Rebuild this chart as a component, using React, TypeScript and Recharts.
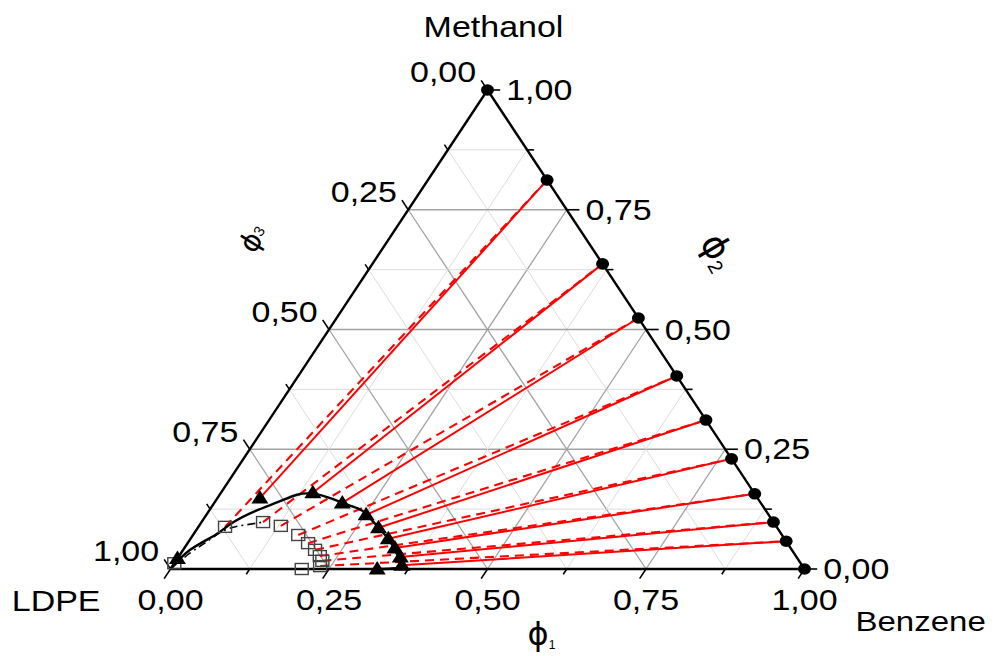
import React from 'react';
import { ScatterChart, Scatter, XAxis, YAxis } from 'recharts';

// ---------------- data (ternary: phi1 = Benzene, phi2 = Methanol, phi3 = LDPE = 1 - phi1 - phi2) ----------------
// Methanol-rich phase on the Benzene–Methanol edge (black circles)
const richBenzene = [0.0, 0.188, 0.363, 0.476, 0.597, 0.689, 0.77, 0.843, 0.902, 0.942, 1.0];
const richMethanol = [1.0, 0.812, 0.637, 0.524, 0.403, 0.311, 0.23, 0.157, 0.098, 0.058, 0.0];
// LDPE-rich phase, experimental (black triangles)
const expBenzene = [0.0, 0.067, 0.145, 0.202, 0.252, 0.285, 0.312, 0.332, 0.35, 0.361, 0.326];
const expMethanol = [0.022, 0.148, 0.159, 0.138, 0.113, 0.086, 0.063, 0.044, 0.025, 0.008, 0.0];
// LDPE-rich phase, calculated (open squares)
const calcBenzene = [0.0, 0.042, 0.097, 0.129, 0.166, 0.19, 0.208, 0.222, 0.231, 0.233, 0.207];
const calcMethanol = [0.012, 0.088, 0.098, 0.09, 0.071, 0.054, 0.04, 0.027, 0.017, 0.006, 0.0];
// binodal curve (solid black)
const binodalBenzene = [0.0, 0.011, 0.035, 0.049, 0.073, 0.1, 0.122, 0.147, 0.178, 0.202, 0.231, 0.251, 0.283, 0.312, 0.334, 0.353, 0.364, 0.349, 0.326];
const binodalMethanol = [0.0, 0.04, 0.071, 0.096, 0.121, 0.14, 0.155, 0.157, 0.148, 0.138, 0.127, 0.115, 0.088, 0.063, 0.04, 0.019, 0.006, 0.001, 0.0];
// calculated curve (dash-dot black)
const calcCurveBenzene = [0.0, 0.014, 0.027, 0.045, 0.072, 0.097];
const calcCurveMethanol = [0.0, 0.033, 0.054, 0.081, 0.092, 0.098];

// axes
const gridValues = [0.125, 0.25, 0.375, 0.5, 0.625, 0.75, 0.875];
const majorGridValues = [0.25, 0.5, 0.75];
const tickValues = [0, 0.125, 0.25, 0.375, 0.5, 0.625, 0.75, 0.875, 1];
const labelValues = [0, 0.25, 0.5, 0.75, 1];
const tickLabels = ['0,00', '0,25', '0,50', '0,75', '1,00'];
const vertexNames = ['Methanol', 'Benzene', 'LDPE'];

// ---------------- layout ----------------
const W = 987;
const H = 648;
const FRAME_LEFT = 162.5;
const FRAME_BOTTOM = 561;
const FRAME_W = 634;
const FRAME_H = 479;
const X_DOMAIN = [-FRAME_LEFT / FRAME_W, (W - FRAME_LEFT) / FRAME_W];
const Y_DOMAIN = [-(H - FRAME_BOTTOM) / FRAME_H, FRAME_BOTTOM / FRAME_H];
const MAJOR_TICK = 0.02;
const MINOR_TICK = 0.011;
const FONT = 'Liberation Sans, Arial, sans-serif';
const SY = 0.86;

const toXY = (b: number, m: number, extra: any = {}) => ({ x: b + m / 2, y: m, ...extra });
const zipPts = (bs: number[], ms: number[]) => bs.map((b, i) => toXY(b, ms[i]));

const richPts = zipPts(richBenzene, richMethanol);
const expPts = zipPts(expBenzene, expMethanol);
const calcPts = zipPts(calcBenzene, calcMethanol);
const binodalPts = zipPts(binodalBenzene, binodalMethanol);
const calcCurvePts = zipPts(calcCurveBenzene, calcCurveMethanol);

const NoShape = () => <g />;

const CircleShape = (p: any) => <ellipse cx={p.cx} cy={p.cy} rx={6.5} ry={5.8} fill="#000" />;
const TriangleShape = (p: any) => (
  <polygon points={`${p.cx},${p.cy - 8} ${p.cx - 8.5},${p.cy + 5.5} ${p.cx + 8.5},${p.cy + 5.5}`} fill="#000" />
);
const SquareShape = (p: any) => (
  <rect x={p.cx - 6.5} y={p.cy - 5.5} width={13} height={11} fill="none" stroke="#444" strokeWidth={1.4} />
);

const textShape = (dx: number, dy: number, anchor: string, size = 34) => (p: any) => (
  <g transform={`translate(${p.cx + dx},${p.cy + dy}) scale(1,${SY})`}>
    <text x={0} y={0} textAnchor={anchor} fontSize={size} fontFamily={FONT} fill="#000">
      {p.payload.label}
    </text>
  </g>
);

const phiShape = (dx: number, dy: number, rot: number, size: number, subSize: number, subDy: number) => (p: any) => (
  <g transform={`translate(${p.cx + dx},${p.cy + dy}) rotate(${rot})`}>
    <text x={0} y={0} textAnchor="middle" fontSize={size} fontFamily="DejaVu Sans, sans-serif" fill="#000">
      {'\u03D5'}
      <tspan fontSize={subSize} dy={subDy} fontFamily={FONT}>{p.payload.label}</tspan>
    </text>
  </g>
);

type Seg = { pts: any[]; stroke: string; width: number; dash?: string; curve?: string };

const segs: Seg[] = [];
// grid
gridValues.forEach((v) => {
  const major = majorGridValues.includes(v);
  const stroke = major ? '#a3a3a3' : '#dcdcdc';
  const width = major ? 1.3 : 1;
  segs.push({ pts: [toXY(0, v), toXY(1 - v, v)], stroke, width });
  segs.push({ pts: [toXY(v, 0), toXY(v, 1 - v)], stroke, width });
  segs.push({ pts: [toXY(1 - v, 0), toXY(0, 1 - v)], stroke, width });
});
// tie lines
for (let i = 1; i < richPts.length - 1; i++) {
  segs.push({ pts: [calcPts[i], richPts[i]], stroke: '#ff0000', width: 2.1, dash: '9 6' });
  segs.push({ pts: [expPts[i], richPts[i]], stroke: '#ff0000', width: 2 });
}
// curves
segs.push({ pts: calcCurvePts, stroke: '#000', width: 1.6, dash: '8 4 2 4', curve: 'natural' });
segs.push({ pts: binodalPts, stroke: '#000', width: 2.4, curve: 'natural' });
// edges
segs.push({ pts: [toXY(0, 0), toXY(0, 1), toXY(1, 0), toXY(0, 0)], stroke: '#000', width: 2.4 });
// ticks
tickValues.forEach((v) => {
  const d = labelValues.includes(v) ? MAJOR_TICK : MINOR_TICK;
  segs.push({ pts: [toXY(0, 1 - v), toXY(-d, 1 - v + d)], stroke: '#000', width: 1.6 });
  segs.push({ pts: [toXY(1 - v, v), toXY(1 - v + d, v)], stroke: '#000', width: 1.6 });
  segs.push({ pts: [toXY(v, 0), toXY(v, -d)], stroke: '#000', width: 1.6 });
});

const leftLabels = labelValues.map((v, i) => toXY(-MAJOR_TICK, 1 - v + MAJOR_TICK, { label: tickLabels[i] }));
const rightLabels = labelValues.map((v, i) => toXY(1 - v + MAJOR_TICK, v, { label: tickLabels[i] }));
const bottomLabels = labelValues.map((v, i) => toXY(v, 0, { label: tickLabels[i] }));
const topTitle = [toXY(0, 1, { label: vertexNames[0] })];
const rightTitle = [toXY(1, 0, { label: vertexNames[1] })];
const leftTitle = [toXY(0, 0, { label: vertexNames[2] })];
const phi1Pt = [toXY(0.5, 0, { label: '1' })];
const phi2Pt = [toXY(0.5, 0.5, { label: '2' })];
const phi3Pt = [toXY(0, 0.5, { label: '3' })];

export default function App() {
  return (
    <ScatterChart width={W} height={H} margin={{ top: 0, right: 0, bottom: 0, left: 0 }} style={{ overflow: 'visible' }}>
      <XAxis type="number" dataKey="x" domain={X_DOMAIN} hide />
      <YAxis type="number" dataKey="y" domain={Y_DOMAIN} hide />
      {segs.map((s, i) => (
        <Scatter
          key={`s${i}`}
          data={s.pts}
          fill={s.stroke}
          shape={NoShape}
          line={{ stroke: s.stroke, strokeWidth: s.width, strokeDasharray: s.dash }}
          lineJointType={(s.curve || 'linear') as any}
          isAnimationActive={false}
        />
      ))}
      <Scatter data={calcPts} shape={SquareShape} isAnimationActive={false} />
      <Scatter data={expPts} shape={TriangleShape} isAnimationActive={false} />
      <Scatter data={richPts} shape={CircleShape} isAnimationActive={false} />
      <Scatter data={leftLabels} shape={textShape(-5, 2, 'end')} isAnimationActive={false} />
      <Scatter data={rightLabels} shape={textShape(6, 10, 'start')} isAnimationActive={false} />
      <Scatter data={bottomLabels} shape={textShape(0, 41, 'middle')} isAnimationActive={false} />
      <Scatter data={topTitle} shape={textShape(6, -53, 'middle')} isAnimationActive={false} />
      <Scatter data={rightTitle} shape={textShape(51, 62, 'start', 33)} isAnimationActive={false} />
      <Scatter data={leftTitle} shape={textShape(-70, 42, 'end')} isAnimationActive={false} />
      <Scatter data={phi1Pt} shape={phiShape(54, 76, 0, 32, 12, 4)} isAnimationActive={false} />
      <Scatter data={phi2Pt} shape={phiShape(62, -72, 60, 36, 20, 5)} isAnimationActive={false} />
      <Scatter data={phi3Pt} shape={phiShape(-68, -86, -58, 28, 15, -3)} isAnimationActive={false} />
    </ScatterChart>
  );
}
